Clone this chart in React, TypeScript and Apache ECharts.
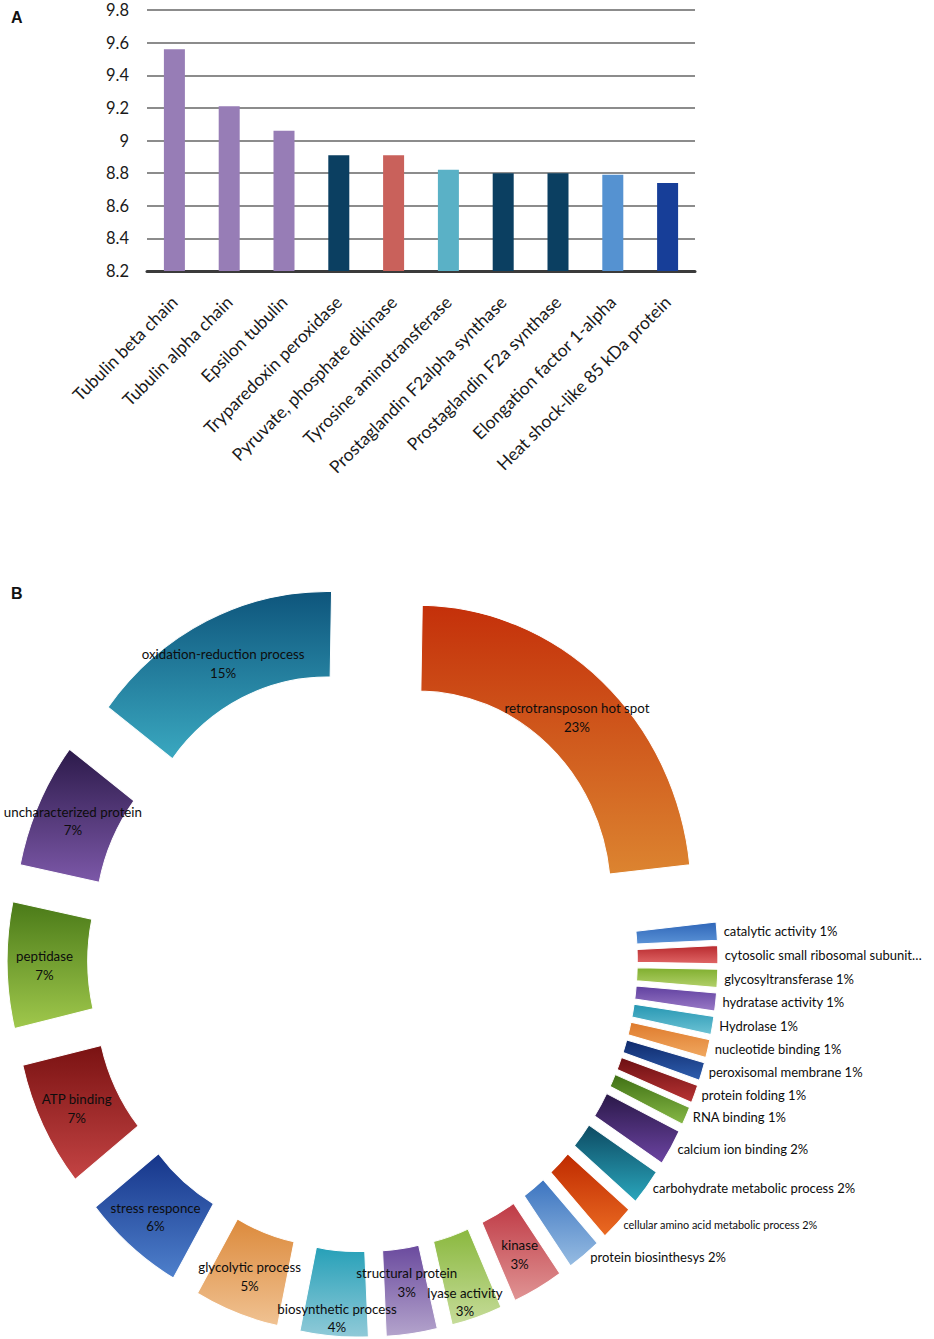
import React, { useEffect, useRef } from "react";
import * as echarts from "echarts";

const barCategories = [
  "Tubulin beta chain",
  "Tubulin alpha chain",
  "Epsilon tubulin",
  "Tryparedoxin peroxidase",
  "Pyruvate, phosphate dikinase",
  "Tyrosine aminotransferase",
  "Prostaglandin F2alpha synthase",
  "Prostaglandin F2a synthase",
  "Elongation factor 1-alpha",
  "Heat shock-like 85 kDa protein",
];
const barValues = [9.56, 9.21, 9.06, 8.91, 8.91, 8.82, 8.8, 8.8, 8.79, 8.74];
const barColors = [
  "#977db6", "#977db6", "#977db6", "#0b3f61", "#c9615b",
  "#5ab1c6", "#0b3f61", "#0b3f61", "#5592d1", "#173e98",
];

const pieNames = [
  "retrotransposon hot spot",
  "catalytic activity",
  "cytosolic small ribosomal subunit",
  "glycosyltransferase",
  "hydratase activity",
  "Hydrolase",
  "nucleotide binding",
  "peroxisomal membrane",
  "protein folding",
  "RNA binding",
  "calcium ion binding",
  "carbohydrate metabolic process",
  "cellular amino acid metabolic process",
  "protein biosinthesys",
  "kinase",
  "lyase activity",
  "structural protein",
  "biosynthetic process",
  "glycolytic process",
  "stress responce",
  "ATP binding",
  "peptidase",
  "uncharacterized protein",
  "oxidation-reduction process",
];
const pieValues = [23, 1, 1, 1, 1, 1, 1, 1, 1, 1, 2, 2, 2, 2, 3, 3, 3, 4, 5, 6, 7, 7, 7, 15];
const pieTop = [
  "#c4300a", "#2f66b8", "#b82a2e", "#7fae2e", "#6040a0", "#2596b2",
  "#de7a2c", "#0f2a6c", "#6c0f12", "#3f7014", "#2a1848", "#0d4a62",
  "#bf2a00", "#3c74c0", "#bf3a45", "#8ab83e", "#6a4a9e", "#26a0b8",
  "#dc8a3c", "#16358a", "#7a1212", "#4a7a18", "#2c1a4a", "#0e557c",
];
const pieBottom = [
  "#dc8430", "#5a92d6", "#e06666", "#b2d06a", "#9a7ac6", "#6cc2d4",
  "#f0a860", "#2e5eae", "#b83434", "#86b846", "#6c44a2", "#2aa6bc",
  "#ea6a22", "#96bce2", "#e09494", "#c6dc9a", "#b4a4cc", "#90cad8",
  "#f0c292", "#4e80cc", "#c44444", "#a0c84c", "#7c58a8", "#3aa8c0",
];
const pieDisplay: Record<string, string> = {
  "cytosolic small ribosomal subunit": "cytosolic small ribosomal subunit\u2026",
};
// vertical nudges of crowded inside labels (px)
const pieLabelDy: Record<string, number> = {
  "biosynthetic process": 20,
  "lyase activity": 21,
  "structural protein": -12,
  "oxidation-reduction process": 6,
  "retrotransposon hot spot": 6,
};

const FONT = "Lato, 'Open Sans', sans-serif";
const PIE_LEFT = -50;
const PIE_TOP = 560;
const PIE_CX = 412.5;
const PIE_CY = 400;

export default function App() {
  const barRef = useRef<HTMLDivElement>(null);
  const pieRef = useRef<HTMLDivElement>(null);
  useEffect(() => {
    document.body.style.margin = "0";
    document.body.style.overflow = "hidden";
    const bar = echarts.init(barRef.current!, undefined, { renderer: "svg" });
    const pie = echarts.init(pieRef.current!, undefined, { renderer: "svg" });

    bar.setOption({
      animation: false,
      title: [
        { text: "A", left: 6, top: 4, textStyle: { fontSize: 16, fontWeight: "bold", color: "#111", fontFamily: "Liberation Sans, Arial, sans-serif" } },
        { text: "B", left: 6, top: 580, textStyle: { fontSize: 16, fontWeight: "bold", color: "#111", fontFamily: "Liberation Sans, Arial, sans-serif" } },
      ],
      grid: { left: 147, right: 239, top: 10, height: 261 },
      xAxis: {
        type: "category",
        data: barCategories,
        axisLine: { lineStyle: { color: "#3b3b3b", width: 3 } },
        axisTick: { show: false },
        axisLabel: { rotate: 45, interval: 0, fontSize: 17.5, color: "#1a1a1a", margin: 28, fontFamily: FONT },
      },
      yAxis: {
        type: "value",
        min: 8.2,
        max: 9.8,
        interval: 0.2,
        axisLine: { show: false },
        axisTick: { show: false },
        axisLabel: { fontSize: 16.5, color: "#1a1a1a", margin: 18, fontFamily: FONT },
        splitLine: { lineStyle: { color: "#8c8c8c", width: 2 } },
      },
      series: [
        {
          type: "bar",
          data: barValues.map((v, i) => ({ value: v, itemStyle: { color: barColors[i] } })),
          barWidth: 21,
        },
      ],
    });

    const pieData = pieNames.map((name, i) => {
      const grad = new echarts.graphic.LinearGradient(0, 0, 0, 1, [
        { offset: 0, color: pieTop[i] },
        { offset: 1, color: pieBottom[i] },
      ]);
      const small = pieValues[i] <= 2;
      const text = pieDisplay[name]
        ? pieDisplay[name]
        : small
        ? `${name} ${pieValues[i]}%`
        : `${name}\n${pieValues[i]}%`;
      return {
        name,
        value: pieValues[i],
        selected: true,
        itemStyle: { color: grad, borderColor: "#ffffff", borderWidth: 1 },
        select: { itemStyle: { color: grad, borderColor: "#ffffff", borderWidth: 1 } },
        label: small
          ? {
              position: "outside",
              formatter: () => text,
              fontSize: name.startsWith("cellular") ? 11.2 : 13.4,
              align: "left",
            }
          : {
              position: "inside",
              formatter: () => text,
              fontSize: 13.7,
              lineHeight: 18,
            },
      };
    });

    pie.setOption({
      animation: false,
      series: [
        {
          type: "pie",
          center: [PIE_CX, PIE_CY],
          radius: [199, 282],
          startAngle: 89,
          clockwise: true,
          selectedMode: "multiple",
          selectedOffset: 84,
          avoidLabelOverlap: false,
          label: { color: "#0d0d0d", fontFamily: FONT },
          labelLine: { show: false, length: 2, length2: 0 },
          labelLayout: (p: any) => ({
            hideOverlap: false,
            dy: pieLabelDy[pieNames[p.dataIndex]] || 0,
          }),
          emphasis: { disabled: true },
          data: pieData,
        },
      ],
    });
    return () => {
      bar.dispose();
      pie.dispose();
    };
  }, []);
  return (
    <div style={{ position: "relative", width: 934, height: 1339, overflow: "hidden" }}>
      <div ref={barRef} style={{ position: "absolute", left: 0, top: 0, width: 934, height: 620 }} />
      <div
        ref={pieRef}
        style={{
          position: "absolute",
          left: PIE_LEFT,
          top: PIE_TOP,
          width: 1034,
          height: 779,
          transform: "scale(0.971, 1.031)",
          transformOrigin: `${PIE_CX}px ${PIE_CY}px`,
        }}
      />
    </div>
  );
}
